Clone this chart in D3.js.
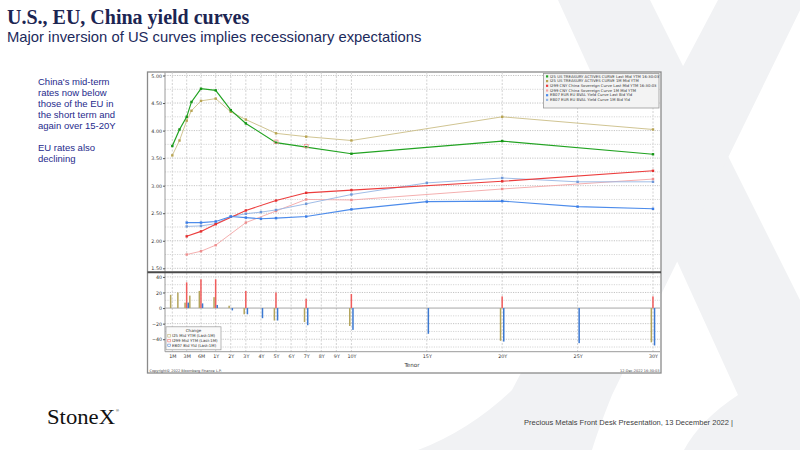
<!DOCTYPE html>
<html>
<head>
<meta charset="utf-8">
<script src="https://cdnjs.cloudflare.com/ajax/libs/d3/7.8.5/d3.min.js"></script>
<style>
  body { margin: 0; background: #fff; }
  svg { display: block; font-family: "Liberation Sans", Arial, sans-serif; }
</style>
</head>
<body>
<div id="chart"></div>
<script>
// DATA //
// US treasury actives curve (I25)
const usTenors = ["1M", "2M", "3M", "4M", "6M", "1Y", "2Y", "3Y", "5Y", "7Y", "10Y", "20Y", "30Y"];
const usLast = [3.72, 4.02, 4.25, 4.52, 4.76, 4.73, 4.37, 4.13, 3.78, 3.70, 3.58, 3.81, 3.57];
const us1M = [3.55, 3.82, 4.18, 4.36, 4.54, 4.58, 4.34, 4.20, 3.95, 3.89, 3.82, 4.25, 4.02];
const usChange = [17, 20, 7, 16, 22, 14, 3, -8, -16, -18, -23, -42, -44];

// China sovereign curve (I299)
const cnTenors = ["3M", "6M", "1Y", "3Y", "5Y", "7Y", "10Y", "20Y", "30Y"];
const cnLast = [2.08, 2.17, 2.30, 2.55, 2.73, 2.87, 2.92, 3.08, 3.27];
const cn1M = [1.75, 1.81, 1.92, 2.33, 2.54, 2.75, 2.74, 2.94, 3.12];
const cnChange = [33, 37, 37, 22, 20, 12, 18, 15, 15];

// EUR EU BVAL yield curve
const euTenors = ["3M", "6M", "1Y", "2Y", "3Y", "4Y", "5Y", "7Y", "10Y", "15Y", "20Y", "25Y", "30Y"];
const euLast = [2.33, 2.33, 2.35, 2.44, 2.42, 2.40, 2.41, 2.44, 2.57, 2.71, 2.72, 2.62, 2.58];
const eu1M = [2.26, 2.27, 2.31, 2.44, 2.49, 2.52, 2.56, 2.67, 2.84, 3.05, 3.14, 3.07, 3.07];
const euChange = [7, 6, 4, -3, -8, -13, -16, -22, -28, -33, -43, -45, -48];

// points flagged on the US curve
const flagTenors = ["5Y", "7Y"];

// axis ticks
const tickTenors = ["1M", "3M", "6M", "1Y", "2Y", "3Y", "4Y", "5Y", "6Y", "7Y", "8Y", "9Y", "10Y", "15Y", "20Y", "25Y", "30Y"];
const yieldTicks = [1.5, 2.0, 2.5, 3.0, 3.5, 4.0, 4.5, 5.0];
const changeTicks = [-40, -20, 0, 20, 40];

const legendTop = [
  "I25 US TREASURY ACTIVES CURVE Last Mid YTM 16:30:03",
  "I25 US TREASURY ACTIVES CURVE 1M Mid YTM",
  "I299 CNY China Sovereign Curve Last Mid YTM 16:30:03",
  "I299 CNY China Sovereign Curve 1M Mid YTM",
  "EB07 EUR EU BVAL Yield Curve Last Bid Yld",
  "EB07 EUR EU BVAL Yield Curve 1M Bid Yld"
];
const legendChange = ["I25 Mid YTM (Last:1M)", "I299 Mid YTM (Last:1M)", "EB07 Bid Yld (Last:1M)"];

const blurb1 = ["China's mid-term", "rates now below", "those of the EU in", "the short term and", "again over 15-20Y"];
const blurb2 = ["EU rates also", "declining"];

// COLOURS //
const cGreen = "#22a322", cTan = "#cbbd86", cRed = "#ec3d3d", cPink = "#f3a6a6", cBlue = "#4d8ceb", cLtBlue = "#95b6e4";
const barTan = "#b4a55c", barRed = "#f05c5c", barBlue = "#3c79d2";

// tenor label -> years
function years(t) {
  const n = parseFloat(t);
  return t.endsWith("M") ? n / 12 : n;
}

// SVG //
const W = 800, H = 450;
const svg = d3.select("#chart").append("svg").attr("width", W).attr("height", H);

// watermark X (two serif strokes, drawn as shapes)
const wm = svg.append("g").attr("fill", "#f1f2f4");
wm.append("path")
  .attr("d", "M558,0 L650,0 L800,300 L800,450 L684,450 Q700,420 738,395 Z");
wm.append("path")
  .attr("d", "M718,0 L805,0 L612,395 Q598,430 592,450 L418,450 Q470,430 512,390 Z");

// titles
svg.append("text").attr("x", 7).attr("y", 23.5)
  .style("font-family", "'Liberation Serif', serif").style("font-weight", "bold").style("font-size", "20px")
  .attr("fill", "#1c2552").text("U.S., EU, China yield curves");
svg.append("text").attr("x", 7).attr("y", 41.5)
  .style("font-size", "14.8px").attr("fill", "#1c2a5c")
  .text("Major inversion of US curves implies recessionary expectations");

// side notes
const blurb = svg.append("g").style("font-size", "9.5px").attr("fill", "#262a8c");
blurb1.forEach((s, i) => blurb.append("text").attr("x", 38).attr("y", 85 + i * 11).text(s));
blurb2.forEach((s, i) => blurb.append("text").attr("x", 38).attr("y", 151 + i * 11).text(s));

// footer
svg.append("text").attr("x", 47).attr("y", 424)
  .style("font-family", "'Liberation Serif', serif").style("font-size", "22px")
  .attr("textLength", 68).attr("lengthAdjust", "spacingAndGlyphs")
  .attr("fill", "#111").text("StoneX");
svg.append("text").attr("x", 116).attr("y", 412)
  .style("font-size", "4px").attr("fill", "#111").text("®");
svg.append("text").attr("x", 524).attr("y", 425)
  .style("font-family", "'Liberation Sans Narrow', 'Liberation Sans', sans-serif").style("font-size", "7.8px")
  .attr("textLength", 209).attr("lengthAdjust", "spacingAndGlyphs")
  .attr("fill", "#404040").text("Precious Metals Front Desk Presentation, 13 December 2022 |");

// CHART //
const box = { l: 147.5, r: 661, t: 72, b: 373 };
const plotL = 165, plotR = 660, upT = 72.5, upB = 272, loT = 273, loB = 351.7;

const chart = svg.append("g").style("font-family", "'DejaVu Sans', sans-serif");

chart.append("rect")
  .attr("x", box.l).attr("y", box.t)
  .attr("width", box.r - box.l).attr("height", box.b - box.t)
  .attr("fill", "#fff").attr("stroke", "#8a8a8a").attr("stroke-width", 1.3);

// short end is spaced evenly, 1Y onwards is linear in years
const x = d3.scaleLinear()
  .domain([1 / 12, 0.25, 0.5, 1, 30])
  .range([172.3, 186.7, 201, 215.7, 653]);
const y = d3.scaleLinear().domain([1.5, 5]).range([268.3, 75.5]);
const yc = d3.scaleLinear().domain([-56, 45]).range([loB, loT]);

// grid: upper
chart.append("g").selectAll("line")
  .data(d3.range(6, 21).map(d => d / 4))
  .join("line")
  .attr("x1", plotL).attr("x2", plotR)
  .attr("y1", d => y(d)).attr("y2", d => y(d))
  .attr("stroke", d => (d * 2) % 1 === 0 ? "#c4c4c4" : "#d6d6d6")
  .attr("stroke-dasharray", "1.2,1.2");

// grid: lower
chart.append("g").selectAll("line")
  .data(d3.range(-50, 41, 10).filter(d => d !== 0))
  .join("line")
  .attr("x1", plotL).attr("x2", plotR)
  .attr("y1", d => yc(d)).attr("y2", d => yc(d))
  .attr("stroke", d => d % 20 === 0 ? "#c4c4c4" : "#d6d6d6")
  .attr("stroke-dasharray", "1.2,1.2");

// vertical grid at tenor ticks
[[upT, upB], [loT, loB]].forEach(([a, b]) => {
  chart.append("g").selectAll("line")
    .data(tickTenors)
    .join("line")
    .attr("x1", d => x(years(d))).attr("x2", d => x(years(d)))
    .attr("y1", a).attr("y2", b)
    .attr("stroke", "#d2d2d2")
    .attr("stroke-dasharray", "2,1.5");
});

// zero line
chart.append("line")
  .attr("x1", plotL).attr("x2", plotR)
  .attr("y1", yc(0)).attr("y2", yc(0))
  .attr("stroke", "#9c9c9c").attr("stroke-width", 0.9);

// axes
const yAxis = chart.append("g")
  .attr("transform", `translate(${plotL},0)`)
  .call(d3.axisLeft(y).tickValues(yieldTicks).tickFormat(d3.format(".2f")).tickSize(2).tickSizeOuter(0));
const cAxis = chart.append("g")
  .attr("transform", `translate(${plotL},0)`)
  .call(d3.axisLeft(yc).tickValues(changeTicks).tickSize(2).tickSizeOuter(0));
const xAxis = chart.append("g")
  .attr("transform", `translate(0,${loB})`)
  .call(d3.axisBottom(x).tickValues(tickTenors.map(years)).tickFormat((d, i) => tickTenors[i]).tickSize(0).tickPadding(3));

[yAxis, cAxis, xAxis].forEach(a => {
  a.selectAll("text").style("font-size", "4.8px").attr("fill", "#333").style("font-family", "'DejaVu Sans', sans-serif");
  a.selectAll("line").attr("stroke", "#555");
  a.select(".domain").attr("stroke", "#9a9a9a");
});
yAxis.select(".domain").attr("d", `M0,${upT}V${upB}`);
cAxis.select(".domain").attr("d", `M0,${loT}V${loB}`);
xAxis.select(".domain").attr("d", `M${plotL},0H${plotR}`);
yAxis.selectAll(".tick text").attr("x", -3);
cAxis.selectAll(".tick text").attr("x", -3);

// panel separator
chart.append("line")
  .attr("x1", box.l).attr("x2", box.r)
  .attr("y1", 272.3).attr("y2", 272.3)
  .attr("stroke", "#4a4a4a").attr("stroke-width", 2);

// change bars
const barSets = [
  { tenors: usTenors, vals: usChange, color: barTan, dx: -1.6 },
  { tenors: cnTenors, vals: cnChange, color: barRed, dx: 0 },
  { tenors: euTenors, vals: euChange, color: barBlue, dx: 1.6 }
];
barSets.forEach(s => {
  chart.append("g").selectAll("rect")
    .data(s.vals)
    .join("rect")
    .attr("x", (d, i) => x(years(s.tenors[i])) + s.dx - 0.8)
    .attr("width", 1.5)
    .attr("y", d => Math.min(yc(d), yc(0)))
    .attr("height", d => Math.abs(yc(d) - yc(0)))
    .attr("fill", s.color);
});

// curves
const curves = [
  { tenors: cnTenors, vals: cn1M, color: cPink, mark: "#ee8e8e", w: 0.9 },
  { tenors: euTenors, vals: eu1M, color: cLtBlue, mark: "#6f98d8", w: 0.9 },
  { tenors: usTenors, vals: us1M, color: cTan, mark: "#b8a452", w: 0.9 },
  { tenors: cnTenors, vals: cnLast, color: cRed, mark: "#e43030", w: 1.1 },
  { tenors: euTenors, vals: euLast, color: cBlue, mark: "#3a7ce6", w: 1.1 },
  { tenors: usTenors, vals: usLast, color: cGreen, mark: "#159515", w: 1.2 }
];
const line = d3.line().x(d => x(d[0])).y(d => y(d[1]));
curves.forEach(c => {
  const pts = c.vals.map((v, i) => [years(c.tenors[i]), v]);
  chart.append("path")
    .datum(pts)
    .attr("d", line)
    .attr("fill", "none")
    .attr("stroke", c.color)
    .attr("stroke-width", c.w);
  chart.append("g").selectAll("rect")
    .data(pts)
    .join("rect")
    .attr("x", d => x(d[0]) - 1.2).attr("y", d => y(d[1]) - 1.2)
    .attr("width", 2.4).attr("height", 2.4)
    .attr("fill", c.mark);
});

// flagged points (hollow squares)
chart.append("g").selectAll("rect")
  .data(flagTenors)
  .join("rect")
  .attr("x", d => x(years(d)) - 2).attr("y", d => y(usLast[usTenors.indexOf(d)]) - 2.6)
  .attr("width", 4).attr("height", 3.2)
  .attr("fill", "none").attr("stroke", "#f08a8a").attr("stroke-width", 0.7);

// top legend
const lg = chart.append("g");
lg.append("rect")
  .attr("x", 543.5).attr("y", 73.5).attr("width", 115.5).attr("height", 34.5)
  .attr("fill", "#f3f3f3").attr("stroke", "#9a9a9a").attr("stroke-width", 0.8);
const legendColors = [cGreen, "#b8a452", cRed, cPink, cBlue, cLtBlue];
legendTop.forEach((s, i) => {
  lg.append("rect").attr("x", 546).attr("y", 75.3 + i * 4.7).attr("width", 2.2).attr("height", 2.2).attr("fill", legendColors[i]);
  lg.append("text").attr("x", 550).attr("y", 77.6 + i * 4.7)
    .style("font-size", "3.8px").attr("fill", "#333").text(s);
});

// change legend
const lc = chart.append("g");
lc.append("rect")
  .attr("x", 166).attr("y", 326.8).attr("width", 55).attr("height", 23)
  .attr("fill", "#fafafa").attr("stroke", "#9a9a9a").attr("stroke-width", 0.7);
lc.append("text").attr("x", 193.5).attr("y", 332.3).attr("text-anchor", "middle")
  .style("font-size", "4px").attr("fill", "#333").text("Change");
[barTan, barRed, barBlue].forEach((col, i) => {
  lc.append("rect").attr("x", 167.8).attr("y", 334.5 + i * 4.8).attr("width", 2.6).attr("height", 2.6)
    .attr("fill", "none").attr("stroke", col).attr("stroke-width", 0.5);
  lc.append("text").attr("x", 172).attr("y", 337.2 + i * 4.8)
    .style("font-size", "3.9px").attr("fill", "#333").text(legendChange[i]);
});

// axis title and footnotes
chart.append("text").attr("x", 412).attr("y", 366.5).attr("text-anchor", "middle")
  .style("font-size", "5.6px").attr("fill", "#333").text("Tenor");
chart.append("text").attr("x", 149.5).attr("y", 371.6)
  .style("font-size", "3.5px").attr("fill", "#444").text("Copyright© 2022 Bloomberg Finance L.P.");
chart.append("text").attr("x", 659.5).attr("y", 371.6).attr("text-anchor", "end")
  .style("font-size", "3.5px").attr("fill", "#444").text("12-Dec-2022 16:30:03");
</script>
</body>
</html>
